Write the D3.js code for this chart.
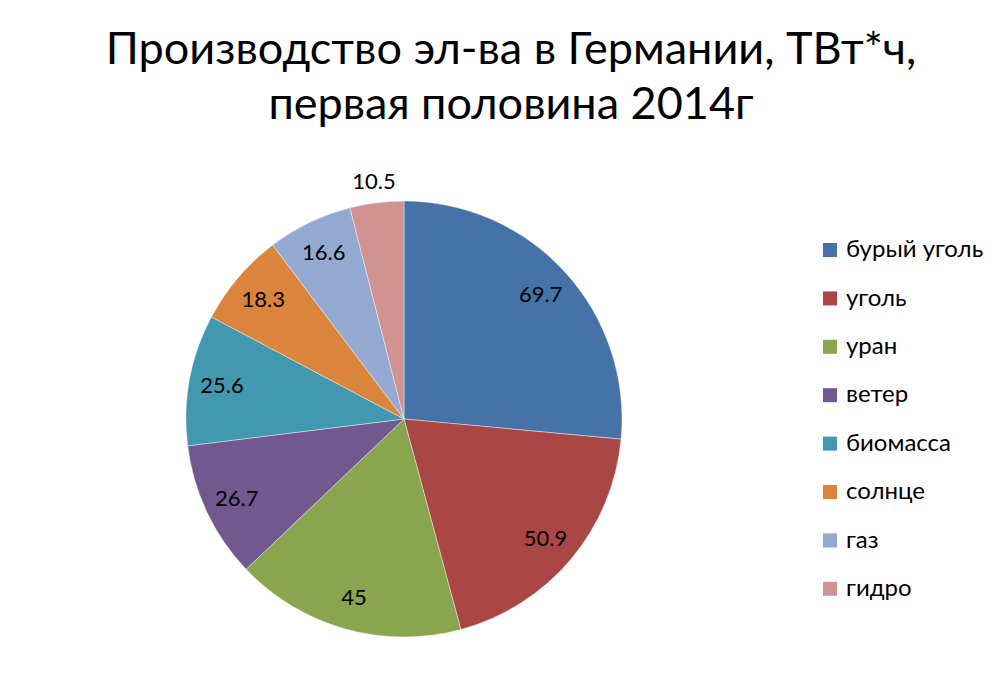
<!DOCTYPE html>
<html lang="ru">
<head>
<meta charset="UTF-8" />
<title>Производство эл-ва в Германии</title>
<style>
  html, body { margin: 0; padding: 0; background: #fff; }
  svg { display: block; font-family: Lato, "Open Sans", sans-serif; }
</style>
</head>
<body>
<svg id="chart" width="1002" height="691"></svg>
<script src="https://d3js.org/d3.v7.min.js"></script>
<script>
  const categories = ['бурый уголь', 'уголь', 'уран', 'ветер', 'биомасса', 'солнце', 'газ', 'гидро'];
  const values = [69.7, 50.9, 45, 26.7, 25.6, 18.3, 16.6, 10.5];
  const colors = ['#4572A7', '#AA4643', '#89A54E', '#71588F', '#4198AF', '#DB843D', '#93A9CF', '#D19392'];
  const titleLines = ['Производство эл-ва в Германии, ТВт*ч,', 'первая половина 2014г'];

  const svg = d3.select('#chart');
  const cx = 404, cy = 419, r = 218;

  svg.append('g')
    .selectAll('text')
    .data(titleLines)
    .join('text')
    .attr('x', 511)
    .attr('y', (d, i) => 64 + i * 55)
    .attr('text-anchor', 'middle')
    .attr('font-size', 45)
    .attr('fill', '#000')
    .text(d => d);

  const data = categories.map((c, i) => ({ name: c, value: values[i], color: colors[i] }));

  const pie = d3.pie().sort(null).value(d => d.value);
  const arcs = pie(data);
  const arc = d3.arc().innerRadius(0).outerRadius(r);
  const labelArc = d3.arc().innerRadius(185).outerRadius(185);
  const outerArc = d3.arc().innerRadius(240).outerRadius(240);

  const g = svg.append('g').attr('transform', `translate(${cx},${cy})`);

  g.selectAll('path')
    .data(arcs)
    .join('path')
    .attr('d', arc)
    .attr('fill', d => d.data.color)
    .attr('stroke', '#fff')
    .attr('stroke-opacity', 0.5)
    .attr('stroke-width', 0.8);

  // small slices get the label outside
  const isSmall = d => (d.endAngle - d.startAngle) < 0.3;

  g.selectAll('text')
    .data(arcs)
    .join('text')
    .attr('transform', d => `translate(${(isSmall(d) ? outerArc : labelArc).centroid(d)})`)
    .attr('text-anchor', 'middle')
    .attr('dy', '0.35em')
    .attr('font-size', 22)
    .attr('fill', '#000')
    .text(d => d.data.value);

  const legend = svg.append('g').attr('transform', 'translate(823,250)');
  const item = legend.selectAll('g')
    .data(data)
    .join('g')
    .attr('transform', (d, i) => `translate(0,${i * 48.4})`);

  item.append('rect')
    .attr('x', 0)
    .attr('y', -7)
    .attr('width', 14)
    .attr('height', 14)
    .attr('fill', d => d.color);

  item.append('text')
    .attr('x', 23)
    .attr('dy', '0.3em')
    .attr('font-size', 24)
    .attr('fill', '#000')
    .text(d => d.name);
</script>
</body>
</html>
